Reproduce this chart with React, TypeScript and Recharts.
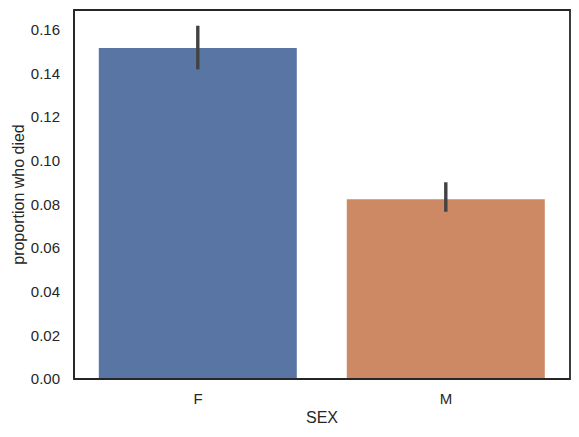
import React from 'react';
import { BarChart, Bar, XAxis, YAxis, Cell, ErrorBar, ReferenceArea } from 'recharts';

const categories = ['F', 'M'];
const proportions = [0.1516, 0.0823];
const ciLow = [0.1418, 0.0766];
const ciHigh = [0.1618, 0.0901];
const yTicks = [0, 0.02, 0.04, 0.06, 0.08, 0.1, 0.12, 0.14, 0.16];
const yMax = 0.169;

const barColors = ['#5975a4', '#cc8963'];
const frameColor = '#262626';
const textColor = '#262626';
const font = '"Liberation Sans", Arial, sans-serif';

const data = categories.map((sex, i) => ({
  sex,
  died: proportions[i],
  err: [proportions[i] - ciLow[i], ciHigh[i] - proportions[i]],
}));

const YLabel = (props: any) => {
  const { viewBox } = props;
  const cy = viewBox.y + viewBox.height / 2;
  return (
    <text
      x={18}
      y={cy}
      transform={`rotate(-90, 18, ${cy})`}
      textAnchor="middle"
      dominantBaseline="central"
      fontSize={16}
      fontFamily={font}
      fill={textColor}
    >
      proportion who died
    </text>
  );
};

const App: React.FC = () => {
  const tickStyle = { fontSize: 15, fontFamily: font, fill: textColor };
  return (
    <div style={{ position: 'absolute', left: 0, top: 0, background: '#fff' }}>
      <BarChart
        width={579}
        height={437}
        data={data}
        margin={{ top: 10, right: 9, bottom: 0, left: 0 }}
        barCategoryGap="10%"
      >
        <XAxis
          dataKey="sex"
          height={58}
          tickLine={false}
          tickMargin={8}
          tick={tickStyle}
          axisLine={{ stroke: frameColor, strokeWidth: 1.8 }}
          label={{
            value: 'SEX',
            position: 'insideBottom',
            offset: 14,
            style: { fontSize: 16, fontFamily: font, fill: textColor },
          }}
        />
        <YAxis
          width={74}
          domain={[0, yMax]}
          ticks={yTicks}
          tickFormatter={(v: number) => v.toFixed(2)}
          tickLine={false}
          tickMargin={8}
          tick={tickStyle}
          allowDataOverflow
          axisLine={{ stroke: frameColor, strokeWidth: 1.8 }}
          label={<YLabel />}
        />
        <Bar dataKey="died" isAnimationActive={false}>
          {data.map((d, i) => (
            <Cell key={d.sex} fill={barColors[i]} />
          ))}
          <ErrorBar dataKey="err" width={0} stroke="#424242" strokeWidth={3.4} direction="y" />
        </Bar>
        <ReferenceArea
          y1={0}
          y2={yMax}
          fill="none"
          fillOpacity={0}
          stroke={frameColor}
          strokeWidth={1.8}
          ifOverflow="visible"
        />
      </BarChart>
    </div>
  );
};

export default App;
